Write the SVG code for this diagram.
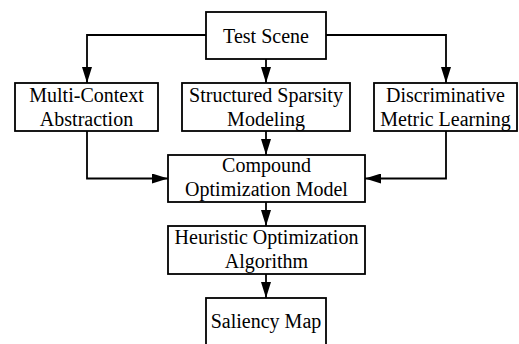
<svg xmlns="http://www.w3.org/2000/svg" width="519" height="344" viewBox="0 0 519 344">
<defs>
<marker id="ah" viewBox="0 0 16 10" refX="16" refY="5" markerWidth="16" markerHeight="10" markerUnits="userSpaceOnUse" orient="auto">
<path d="M0,0 L16,5 L0,10 Z" fill="#000"/>
</marker>
<style>
.box{fill:#fff;stroke:#000;stroke-width:1.8}
.t{font-family:"Liberation Serif","Times New Roman",serif;font-size:20px;fill:#000;text-anchor:middle}
.c{fill:none;stroke:#000;stroke-width:1.8;marker-end:url(#ah)}
</style>
</defs>
<rect width="519" height="344" fill="#fff"/>
<g id="connectors">
<path class="c" d="M206,35 H87 V83"/>
<path class="c" d="M266,59 V83"/>
<path class="c" d="M326,35 H446 V83"/>
<path class="c" d="M87,131 V178.5 H168"/>
<path class="c" d="M446,131 V178.5 H365"/>
<path class="c" d="M266,131 V155"/>
<path class="c" d="M266,202 V226"/>
<path class="c" d="M266,274 V298"/>
</g>
<g id="test-scene">
<rect class="box" x="206" y="12" width="120" height="47"/>
<text class="t" x="266" y="42.5">Test Scene</text>
</g>
<g id="multi-context">
<rect class="box" x="15" y="83" width="143" height="48"/>
<text class="t" x="86.5" y="101.5">Multi-Context</text>
<text class="t" x="86.5" y="125.5">Abstraction</text>
</g>
<g id="structured-sparsity">
<rect class="box" x="182" y="83" width="168" height="48"/>
<text class="t" x="266" y="101.5">Structured Sparsity</text>
<text class="t" x="266" y="125.5">Modeling</text>
</g>
<g id="discriminative">
<rect class="box" x="374" y="83" width="143" height="48"/>
<text class="t" x="445.5" y="101.5">Discriminative</text>
<text class="t" x="445.5" y="125.5">Metric Learning</text>
</g>
<g id="compound">
<rect class="box" x="168" y="155" width="197" height="47"/>
<text class="t" x="266.5" y="172">Compound</text>
<text class="t" x="266.5" y="196">Optimization Model</text>
</g>
<g id="heuristic">
<rect class="box" x="168" y="226" width="197" height="48"/>
<text class="t" x="266.5" y="244">Heuristic Optimization</text>
<text class="t" x="266.5" y="268">Algorithm</text>
</g>
<g id="saliency">
<rect class="box" x="206" y="298" width="120" height="60"/>
<text class="t" x="266" y="328">Saliency Map</text>
</g>
</svg>
